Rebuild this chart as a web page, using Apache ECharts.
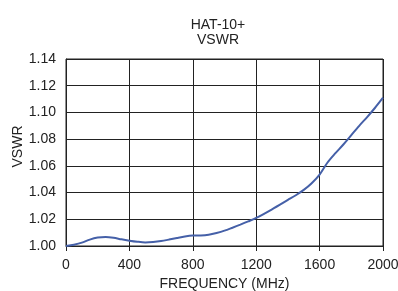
<!DOCTYPE html>
<html>
<head>
<meta charset="utf-8">
<script src="https://cdn.jsdelivr.net/npm/echarts@6/dist/echarts.min.js"></script>
<style>
  html, body { margin: 0; padding: 0; background: #fff; }
  #chart { width: 398px; height: 291px; }
</style>
</head>
<body>
<div id="chart"></div>
<script>
// frequency (MHz) and VSWR
const freq = [0, 50, 100, 150, 200, 250, 300, 350, 400, 450, 500, 550, 600, 650, 700, 750, 800, 850, 900, 950,
  1000, 1050, 1100, 1150, 1200, 1300, 1400, 1450, 1500, 1550, 1600, 1650, 1700, 1750, 1800, 1850, 1900, 1950, 2000];
const vswr = [1.000, 1.001, 1.0025, 1.0048, 1.0063, 1.0068, 1.0062, 1.005, 1.004, 1.0032, 1.0027, 1.003, 1.0037,
  1.0048, 1.006, 1.0071, 1.0078, 1.0079, 1.0085, 1.0098, 1.0115, 1.0137, 1.016, 1.0184, 1.021, 1.0275, 1.0345,
  1.038, 1.042, 1.047, 1.0535, 1.0625, 1.0695, 1.076, 1.083, 1.090, 1.0965, 1.1035, 1.111];
const xTicks = [0, 400, 800, 1200, 1600, 2000];
const yTicks = [1.00, 1.02, 1.04, 1.06, 1.08, 1.10, 1.12, 1.14];

const chart = echarts.init(document.getElementById("chart"));
const font = "Liberation Sans, Arial, sans-serif";

chart.setOption({
  animation: false,
  title: {
    text: "HAT-10+\nVSWR",
    left: 213,
    top: 13,
    textAlign: "center",
    textStyle: { fontFamily: font, fontSize: 14, fontWeight: "normal", color: "#222", lineHeight: 15 },
  },
  grid: {
    left: 66, right: 15, top: 59, bottom: 45,
    outerBoundsMode: "none",
    show: true, borderColor: "#222", borderWidth: 1,
  },
  xAxis: {
    type: "value",
    min: xTicks[0],
    max: xTicks[xTicks.length - 1],
    interval: xTicks[1] - xTicks[0],
    name: "FREQUENCY (MHz)",
    nameLocation: "middle",
    nameGap: 31,
    nameTextStyle: { fontFamily: font, fontSize: 14, color: "#222" },
    axisLine: { lineStyle: { color: "#222", width: 1 } },
    axisTick: { show: true, length: 5, lineStyle: { color: "#222" } },
    axisLabel: { fontFamily: font, fontSize: 14, color: "#222", margin: 12, formatter: (v) => String(v) },
    splitLine: { show: true, lineStyle: { color: "#222", width: 1 } },
  },
  yAxis: {
    type: "value",
    min: yTicks[0],
    max: yTicks[yTicks.length - 1],
    interval: 0.02,
    name: "VSWR",
    nameLocation: "middle",
    nameGap: 41,
    nameMoveOverlap: false,
    nameTextStyle: { fontFamily: font, fontSize: 14, color: "#222", padding: [0, 0, 0, 12] },
    axisLine: { show: true, lineStyle: { color: "#222", width: 1 } },
    axisTick: { show: false },
    axisLabel: {
      fontFamily: font, fontSize: 14, color: "#222", margin: 10,
      formatter: (v) => v.toFixed(2),
    },
    splitLine: { show: true, lineStyle: { color: "#222", width: 1 } },
  },
  series: [
    {
      type: "line",
      data: freq.map((f, i) => [f, vswr[i]]),
      smooth: 0.3,
      showSymbol: false,
      lineStyle: { color: "#4560a8", width: 2 },
    },
  ],
});
</script>
</body>
</html>
